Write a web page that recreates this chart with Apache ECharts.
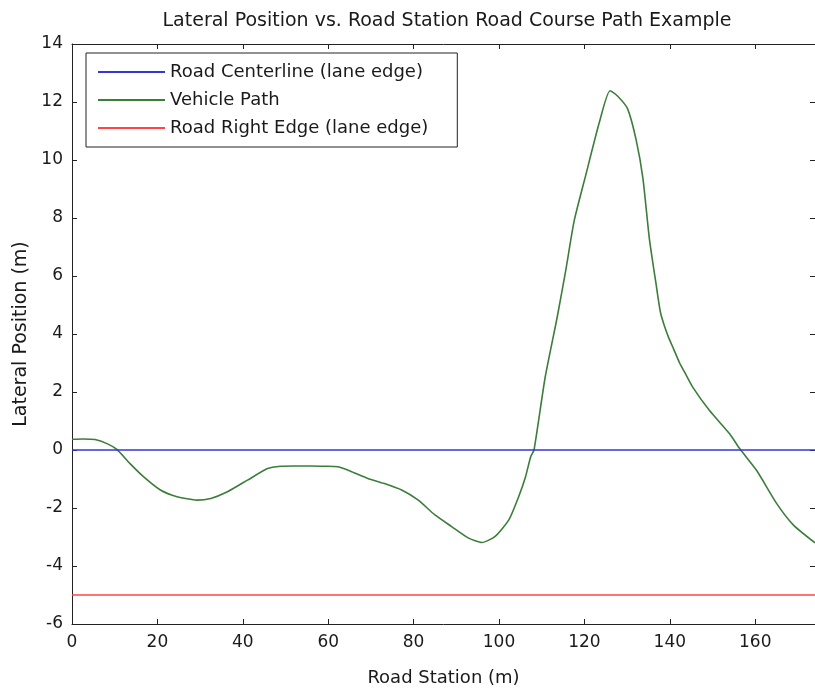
<!DOCTYPE html>
<html>
<head>
<meta charset="utf-8">
<script src="https://cdn.jsdelivr.net/npm/echarts@6/dist/echarts.min.js"></script>
<style>html,body{margin:0;padding:0;background:#fff;}#c{width:815px;height:692px;}</style>
</head>
<body>
<div id="c"></div>
<script>
var titleText = 'Lateral Position vs. Road Station Road Course Path Example';
var xName = 'Road Station (m)';
var yName = 'Lateral Position (m)';
var seriesNames = ['Road Centerline (lane edge)', 'Vehicle Path', 'Road Right Edge (lane edge)'];

var centerStation = [0, 174];
var centerLateral = [0, 0];
var edgeStation = [0, 174];
var edgeLateral = [-5, -5];

var pathStation = [0, 2.5, 5.4, 8.2, 10.5, 13.6, 16.8, 20.7, 24.6, 29.3, 32.5, 36.4, 41.1, 45.8, 48.9, 52, 56, 59, 62.3, 65.5, 69.3, 73, 77.2, 81.1, 85.0, 88.9, 92.9, 96.0, 99.1, 102.3, 104.6, 106.2, 107.4, 108.2, 110.8, 113.6, 115.6, 117.6, 120.3, 123.5, 126.0, 127.8, 130.1, 132.1, 133.7, 135.2, 136.8, 137.8, 138.8, 139.8, 140.9, 142.3, 143.4, 145.4, 149.3, 154.0, 156.4, 160.3, 165.0, 168.9, 174.0];
var pathLateral = [0.37, 0.38, 0.36, 0.22, 0.02, -0.47, -0.93, -1.38, -1.61, -1.73, -1.67, -1.44, -1.04, -0.64, -0.56, -0.55, -0.55, -0.56, -0.58, -0.75, -0.98, -1.15, -1.38, -1.73, -2.24, -2.64, -3.04, -3.19, -2.98, -2.41, -1.61, -0.93, -0.24, 0.0, 2.5, 4.56, 6.17, 7.9, 9.47, 11.3, 12.39, 12.2, 11.77, 10.7, 9.37, 7.3, 5.7, 4.75, 4.25, 3.85, 3.48, 3.0, 2.7, 2.16, 1.36, 0.56, 0.04, -0.7, -1.84, -2.58, -3.2];

var xMin = 0, xMax = 174, xInterval = 20;
var yMin = -6, yMax = 14, yInterval = 2;

function pairs(xs, ys) { return xs.map(function (x, i) { return [x, ys[i]]; }); }

var FONT = 'DejaVu Sans';
var TXT = '#1a1a1a';

var chart = echarts.init(document.getElementById('c'), null, {renderer: 'canvas'});
var axisCommon = {
  type: 'value',
  splitLine: {show: false},
  axisLine: {show: true, onZero: false, lineStyle: {color: '#222', width: 1}},
  axisTick: {show: true, inside: true, length: 5, lineStyle: {color: '#222'}}
};
chart.setOption({
  animation: false,
  backgroundColor: '#fff',
  title: {
    text: titleText, left: 442, top: 7, textAlign: 'center',
    textStyle: {fontFamily: FONT, fontSize: 19, fontWeight: 'normal', color: TXT}
  },
  grid: {left: 72, right: -2, top: 44, bottom: 64, containLabel: false},
  legend: {
    orient: 'vertical', left: 86, top: 53,
    data: seriesNames.map(function (n) { return {name: n, icon: 'rect'}; }),
    itemWidth: 67, itemHeight: 2, itemGap: 10,
    padding: [10, 29, 10, 12],
    borderColor: '#222', borderWidth: 1, backgroundColor: '#fff',
    textStyle: {fontFamily: FONT, fontSize: 18, color: TXT}
  },
  xAxis: [
    Object.assign({}, axisCommon, {
      position: 'bottom', min: xMin, max: xMax, interval: xInterval,
      name: xName, nameLocation: 'middle', nameGap: 45,
      nameTextStyle: {fontFamily: FONT, fontSize: 18, color: TXT},
      axisLabel: {fontFamily: FONT, fontSize: 17, color: TXT, margin: 10, showMaxLabel: false}
    }),
    Object.assign({}, axisCommon, {
      position: 'top', min: xMin, max: xMax, interval: xInterval,
      axisLabel: {show: false}
    })
  ],
  yAxis: [
    Object.assign({}, axisCommon, {
      position: 'left', min: yMin, max: yMax, interval: yInterval,
      name: yName, nameLocation: 'middle', nameGap: 41, nameRotate: 90,
      nameTextStyle: {fontFamily: FONT, fontSize: 19, color: TXT},
      axisLabel: {fontFamily: FONT, fontSize: 17, color: TXT, margin: 9}
    }),
    Object.assign({}, axisCommon, {
      position: 'right', min: yMin, max: yMax, interval: yInterval,
      axisLabel: {show: false}
    })
  ],
  series: [
    {name: seriesNames[0], type: 'line', symbol: 'none', data: pairs(centerStation, centerLateral),
     lineStyle: {color: '#3535d8', width: 1.6}, itemStyle: {color: '#3535d8'}, z: 3},
    {name: seriesNames[1], type: 'line', symbol: 'none', smooth: 0.2, data: pairs(pathStation, pathLateral),
     lineStyle: {color: '#3c7d3c', width: 1.6}, itemStyle: {color: '#3c7d3c'}, z: 2},
    {name: seriesNames[2], type: 'line', symbol: 'none', data: pairs(edgeStation, edgeLateral),
     lineStyle: {color: '#ff4545', width: 1.6}, itemStyle: {color: '#ff4545'}, z: 3}
  ]
});
</script>
</body>
</html>
